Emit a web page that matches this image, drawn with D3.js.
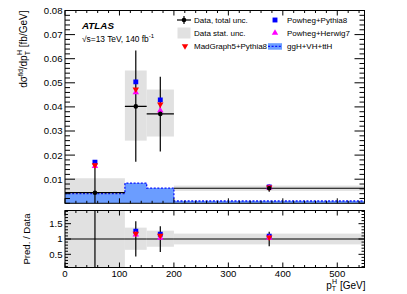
<!DOCTYPE html>
<html>
<head>
<meta charset="utf-8">
<script src="https://cdn.jsdelivr.net/npm/d3@7"></script>
<style>
  body { margin: 0; background: #fff; }
  svg { display: block; font-family: "Liberation Sans", Arial, sans-serif; }
</style>
</head>
<body>
<svg id="chart" width="407" height="294"></svg>
<script>
// bins in pT^H [GeV]
let binLo = [0, 110, 150, 200];
let binHi = [110, 150, 200, 550];
let binMid = [55, 130, 175, 375];

// measured cross section [fb/GeV]
let dataVal = [0.0044, 0.0402, 0.0371, 0.00625];
let totUp = [0.0135, 0.0232, 0.0154, 0.0015];
let totDn = [0.0135, 0.0230, 0.0156, 0.0015];
let statUp = [0.0060, 0.0149, 0.0101, 0.0011];
let statDn = [0.0060, 0.0142, 0.0094, 0.0011];

// predictions
let powhegPy8 = [0.0171, 0.0504, 0.0429, 0.0068];
let madgraphPy8 = [0.0158, 0.0473, 0.0411, 0.0066];
let powhegHw7 = [0.0154, 0.0460, 0.0385, 0.0065];
let xhTotal = [0.0040, 0.0084, 0.0063, 0.00096];

let yMainTicks = [0.01, 0.02, 0.03, 0.04, 0.05, 0.06, 0.07, 0.08];
let yRatioTicks = [0.5, 1, 1.5];
let xTicks = [0, 100, 200, 300, 400, 500];

let svg = d3.select('#chart');

let left = 65, right = 364.5;
let mainTop = 10.5, mainBot = 203.3;
let ratTop = 210.5, ratBot = 267.5;

let x = d3.scaleLinear().domain([0, 550]).range([left, right]);
let y = d3.scaleLinear().domain([0, 0.08]).range([mainBot, mainTop]);
let yr = d3.scaleLinear().domain([0.07, 1.93]).range([ratBot, ratTop]);

let bins = binLo.map(function(lo, i) {
  return {
    lo: lo, hi: binHi[i], mid: binMid[i], v: dataVal[i],
    tu: totUp[i], td: totDn[i], su: statUp[i], sd: statDn[i],
    p8: powhegPy8[i], mg: madgraphPy8[i], h7: powhegHw7[i], xh: xhTotal[i]
  };
});

let defs = svg.append('defs');
defs.append('clipPath').attr('id', 'clipMain')
  .append('rect').attr('x', left).attr('y', mainTop)
  .attr('width', right - left).attr('height', mainBot - mainTop);
defs.append('clipPath').attr('id', 'clipRat')
  .append('rect').attr('x', left).attr('y', ratTop)
  .attr('width', right - left).attr('height', ratBot - ratTop);

let sq = d3.symbol().type(d3.symbolSquare).size(24);
let tri = d3.symbol().type(d3.symbolTriangle).size(18);

function drawMarkers(g, list, yy, fn) {
  g.selectAll(null).data(list).join('path')
    .attr('d', fn.path)
    .attr('transform', function(d) {
      return 'translate(' + x(d.mid) + ',' + yy(fn.val(d)) + ')' + (fn.rot ? ' rotate(180)' : '');
    })
    .attr('fill', fn.color);
}

// ---------- main panel ----------
let gm = svg.append('g').attr('clip-path', 'url(#clipMain)');

gm.selectAll('rect.stat').data(bins).join('rect')
  .attr('x', function(d) { return x(d.lo); })
  .attr('width', function(d) { return x(d.hi) - x(d.lo); })
  .attr('y', function(d) { return y(d.v + d.su); })
  .attr('height', function(d) { return y(d.v - d.sd) - y(d.v + d.su); })
  .attr('fill', '#e1e1e1');

let area = d3.area()
  .curve(d3.curveStepAfter)
  .x(function(d) { return x(d[0]); })
  .y0(y(0))
  .y1(function(d) { return y(d[1]); });
let stepPts = bins.map(function(d) { return [d.lo, d.xh]; });
stepPts.push([binHi[binHi.length - 1], xhTotal[xhTotal.length - 1]]);
gm.append('path').datum(stepPts).attr('d', area).attr('fill', '#6b9dff');
gm.append('path').datum(stepPts).attr('d', area.lineY1())
  .attr('fill', 'none').attr('stroke', '#0a14ff').attr('stroke-width', 1.3)
  .attr('stroke-dasharray', '2,1.6');

gm.selectAll('line.hbar').data(bins).join('line')
  .attr('x1', function(d) { return x(d.lo); })
  .attr('x2', function(d) { return x(d.hi); })
  .attr('y1', function(d) { return y(d.v); })
  .attr('y2', function(d) { return y(d.v); })
  .attr('stroke', '#000').attr('stroke-width', 1.2);
gm.selectAll('line.vbar').data(bins).join('line')
  .attr('x1', function(d) { return x(d.mid); })
  .attr('x2', function(d) { return x(d.mid); })
  .attr('y1', function(d) { return y(d.v + d.tu); })
  .attr('y2', function(d) { return y(d.v - d.td); })
  .attr('stroke', '#000').attr('stroke-width', 1.2);

let mkP8 = { path: sq, color: '#0000ff', val: function(d) { return d.p8; } };
let mkH7 = { path: tri, color: '#ff00ff', val: function(d) { return d.h7; } };
let mkMG = { path: tri, color: '#ff0000', rot: true, val: function(d) { return d.mg; } };

drawMarkers(gm, bins, y, mkP8);
drawMarkers(gm, bins, y, mkH7);
drawMarkers(gm, bins, y, mkMG);

gm.selectAll('circle.dat').data(bins).join('circle')
  .attr('cx', function(d) { return x(d.mid); })
  .attr('cy', function(d) { return y(d.v); })
  .attr('r', 2.3).attr('fill', '#000');

// ---------- ratio panel ----------
let gr = svg.append('g').attr('clip-path', 'url(#clipRat)');

gr.selectAll('rect.stat').data(bins).join('rect')
  .attr('x', function(d) { return x(d.lo); })
  .attr('width', function(d) { return x(d.hi) - x(d.lo); })
  .attr('y', function(d) { return yr(1 + d.su / d.v); })
  .attr('height', function(d) { return yr(1 - d.sd / d.v) - yr(1 + d.su / d.v); })
  .attr('fill', '#e1e1e1');

gr.selectAll('line.hbar').data(bins).join('line')
  .attr('x1', function(d) { return x(d.lo); })
  .attr('x2', function(d) { return x(d.hi); })
  .attr('y1', yr(1)).attr('y2', yr(1))
  .attr('stroke', '#000').attr('stroke-width', 1.2);
gr.selectAll('line.vbar').data(bins).join('line')
  .attr('x1', function(d) { return x(d.mid); })
  .attr('x2', function(d) { return x(d.mid); })
  .attr('y1', function(d) { return yr(1 + d.tu / d.v); })
  .attr('y2', function(d) { return yr(1 - d.td / d.v); })
  .attr('stroke', '#000').attr('stroke-width', 1.2);

let ratioBins = bins.map(function(d) {
  return { mid: d.mid, p8: d.p8 / d.v, mg: d.mg / d.v, h7: d.h7 / d.v };
});
drawMarkers(gr, ratioBins, yr, mkP8);
drawMarkers(gr, ratioBins, yr, mkH7);
drawMarkers(gr, ratioBins, yr, mkMG);

// ---------- frames and ticks ----------
function frame(top, bot, ys, yMaj, yMin, yLen, xLen) {
  let g = svg.append('g').attr('stroke', '#000').attr('stroke-width', 1);
  g.append('rect').attr('x', left).attr('y', top)
    .attr('width', right - left).attr('height', bot - top).attr('fill', 'none');
  let xMinor = d3.range(0, 551, 20);
  xMinor.forEach(function(v) {
    let len = (v % 100 === 0) ? xLen : xLen / 2;
    g.append('line').attr('x1', x(v)).attr('x2', x(v)).attr('y1', bot).attr('y2', bot - len);
    g.append('line').attr('x1', x(v)).attr('x2', x(v)).attr('y1', top).attr('y2', top + len);
  });
  yMin.forEach(function(v) {
    let isMaj = yMaj.some(function(m) { return Math.abs(m - v) < 1e-9; });
    let len = isMaj ? yLen : yLen / 2;
    g.append('line').attr('x1', left).attr('x2', left + len).attr('y1', ys(v)).attr('y2', ys(v));
    g.append('line').attr('x1', right).attr('x2', right - len).attr('y1', ys(v)).attr('y2', ys(v));
  });
}
frame(mainTop, mainBot, y, yMainTicks, d3.range(0, 0.0801, 0.002).map(function(v) { return +v.toFixed(4); }), 10, 5);
frame(ratTop, ratBot, yr, yRatioTicks, d3.range(0.1, 1.95, 0.1).map(function(v) { return +v.toFixed(2); }), 6, 5);

// tick labels
let fs = 9.6;
svg.append('g').selectAll('text').data(yMainTicks).join('text')
  .attr('x', left - 2.5).attr('y', function(d) { return y(d) + 3.4; })
  .attr('text-anchor', 'end').attr('font-size', fs)
  .text(function(d) { return d3.format('.2f')(d); });
svg.append('g').selectAll('text').data(yRatioTicks).join('text')
  .attr('x', left - 2.5).attr('y', function(d) { return yr(d) + 3.4; })
  .attr('text-anchor', 'end').attr('font-size', fs)
  .text(function(d) { return d; });
svg.append('g').selectAll('text').data(xTicks).join('text')
  .attr('x', function(d) { return x(d); }).attr('y', 277)
  .attr('text-anchor', 'middle').attr('font-size', fs)
  .text(function(d) { return d; });

// axis titles
let xt = svg.append('text').attr('x', right + 1).attr('y', 288.5)
  .attr('text-anchor', 'end').attr('font-size', 10);
xt.append('tspan').text('p');
xt.append('tspan').attr('font-size', 7).attr('dy', 2.5).text('T');
xt.append('tspan').attr('font-size', 7).attr('dx', -4).attr('dy', -7.5).text('H');
xt.append('tspan').attr('dy', 5).text(' [GeV]');

let yt = svg.append('text').attr('transform', 'translate(27,' + mainTop + ') rotate(-90)')
  .attr('text-anchor', 'end').attr('font-size', 10);
yt.append('tspan').text('d\u03c3');
yt.append('tspan').attr('font-size', 6.5).attr('dy', -4).text('fid');
yt.append('tspan').attr('dy', 4).text('/dp');
yt.append('tspan').attr('font-size', 7).attr('dy', 2.5).text('T');
yt.append('tspan').attr('font-size', 7).attr('dx', -4).attr('dy', -7.5).text('H');
yt.append('tspan').attr('dy', 5).text(' [fb/GeV]');

svg.append('text').attr('transform', 'translate(29.5,' + ((ratTop + ratBot) / 2) + ') rotate(-90)')
  .attr('text-anchor', 'middle').attr('font-size', 9.6).text('Pred. / Data');

// ATLAS label
svg.append('text').attr('x', 82).attr('y', 29).attr('font-size', 9.8)
  .attr('font-weight', 'bold').attr('font-style', 'italic').text('ATLAS');
let en = svg.append('text').attr('x', 82).attr('y', 41.5).attr('font-size', 8.4);
en.append('tspan').text('\u221As=13 TeV, 140 fb');
en.append('tspan').attr('font-size', 6).attr('dy', -3.5).text('-1');

// ---------- legend ----------
let leg = svg.append('g').attr('font-size', 8);
let rowY = [20, 33, 46];
let c1 = 184, c2 = 275;

leg.append('line').attr('x1', c1 - 7).attr('x2', c1 + 7).attr('y1', rowY[0]).attr('y2', rowY[0])
  .attr('stroke', '#000').attr('stroke-width', 1.2);
leg.append('line').attr('x1', c1).attr('x2', c1).attr('y1', rowY[0] - 4).attr('y2', rowY[0] + 4)
  .attr('stroke', '#000').attr('stroke-width', 1.2);
leg.append('circle').attr('cx', c1).attr('cy', rowY[0]).attr('r', 2.3).attr('fill', '#000');
leg.append('rect').attr('x', c1 - 6.5).attr('y', rowY[1] - 5.5).attr('width', 13).attr('height', 11)
  .attr('fill', '#e1e1e1');
leg.append('path').attr('d', tri).attr('fill', '#ff0000')
  .attr('transform', 'translate(' + (c1 + 1) + ',' + rowY[2] + ') rotate(180)');
leg.append('path').attr('d', sq).attr('fill', '#0000ff')
  .attr('transform', 'translate(' + c2 + ',' + rowY[0] + ')');
leg.append('path').attr('d', tri).attr('fill', '#ff00ff')
  .attr('transform', 'translate(' + c2 + ',' + rowY[1] + ')');
leg.append('rect').attr('x', c2 - 7).attr('y', rowY[2] - 2.8).attr('width', 14).attr('height', 6.5)
  .attr('fill', '#6b9dff');
leg.append('line').attr('x1', c2 - 7).attr('x2', c2 + 7).attr('y1', rowY[2] + 0.4).attr('y2', rowY[2] + 0.4)
  .attr('stroke', '#0a14ff').attr('stroke-width', 1.3).attr('stroke-dasharray', '2,1.6');

let legText1 = ['Data, total unc.', 'Data stat. unc.', 'MadGraph5+Pythia8'];
let legText2 = ['Powheg+Pythia8', 'Powheg+Herwig7', 'ggH+VH+ttH'];
leg.selectAll('text.c1').data(legText1).join('text')
  .attr('x', 194).attr('y', function(d, i) { return rowY[i] + 3; })
  .attr('textLength', function(d, i) { return i === 2 ? 73 : null; })
  .text(function(d) { return d; });
leg.selectAll('text.c2').data(legText2).join('text')
  .attr('x', 287).attr('y', function(d, i) { return rowY[i] + 3; }).text(function(d) { return d; });
</script>
</body>
</html>
